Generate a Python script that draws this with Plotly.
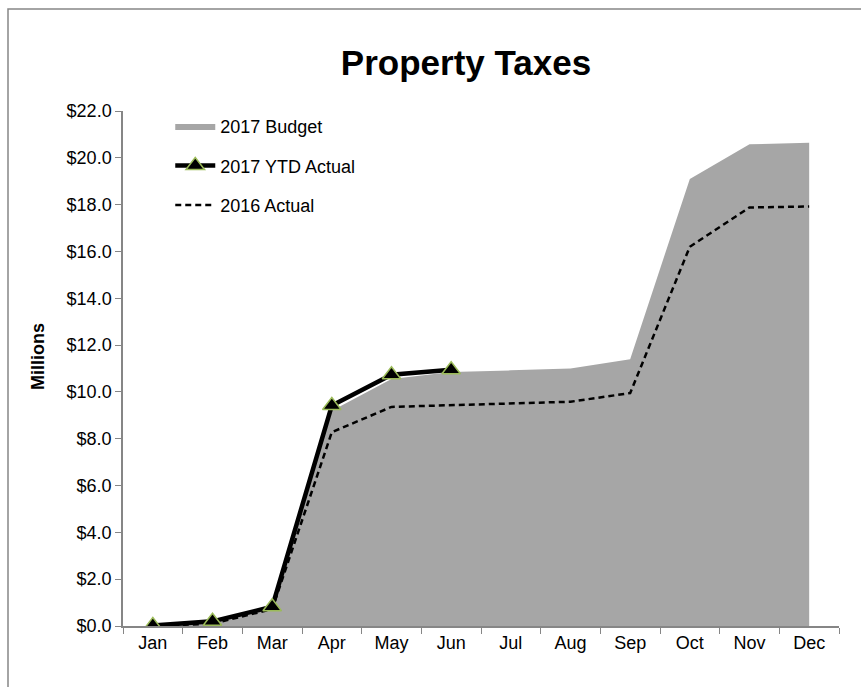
import plotly.graph_objects as go

# Monthly cumulative property tax collections, in millions of dollars
months = ["Jan", "Feb", "Mar", "Apr", "May", "Jun",
          "Jul", "Aug", "Sep", "Oct", "Nov", "Dec"]
budget_2017 = [0.0, 0.15, 0.75, 9.2, 10.55, 10.85, 10.92, 11.0, 11.4, 19.1, 20.58, 20.64]
ytd_actual_2017 = [0.02, 0.2, 0.82, 9.42, 10.73, 10.95]
actual_2016 = [0.0, 0.1, 0.72, 8.28, 9.36, 9.43, 9.5, 9.58, 9.95, 16.2, 17.88, 17.92]
y_ticks = [0, 2, 4, 6, 8, 10, 12, 14, 16, 18, 20, 22]

FONT = "Liberation Sans, Arial, sans-serif"
AXIS_GREY = "#868686"
FILL_GREY = "#A6A6A6"

fig = go.Figure()

fig.add_trace(go.Scatter(
    x=months, y=budget_2017, name="2017 Budget",
    mode="lines", line=dict(width=0, color=FILL_GREY),
    fill="tozeroy", fillcolor=FILL_GREY,
    legendgroup="a", legendrank=1,
))

fig.add_trace(go.Scatter(
    x=months, y=actual_2016, name="2016 Actual",
    mode="lines", line=dict(color="black", width=2.5, dash="6px,4px"),
    legendgroup="c", legendrank=3,
))

fig.add_trace(go.Scatter(
    x=months[:len(ytd_actual_2017)], y=ytd_actual_2017, name="2017 YTD Actual",
    mode="lines+markers",
    line=dict(color="black", width=4.5),
    marker=dict(symbol="triangle-up", size=16, color="black",
                line=dict(color="#9BBB59", width=1.5)),
    legendgroup="b", legendrank=2,
))

# Outer chart border (top and left edges visible)
fig.add_shape(type="rect", xref="paper", yref="paper",
              x0=(8 - 123) / 716, x1=1.2, y0=-0.5, y1=(626 - 9) / 515,
              line=dict(color=AXIS_GREY, width=1.5), fillcolor="rgba(0,0,0,0)",
              layer="below")

fig.update_layout(
    width=861, height=687,
    margin=dict(l=123, r=22, t=111, b=61),
    paper_bgcolor="white", plot_bgcolor="white",
    font=dict(family=FONT, size=18, color="black"),
    title=dict(text="<b>Property Taxes</b>", x=466 / 861, xanchor="center",
               y=1 - 63 / 687, yanchor="middle",
               font=dict(family=FONT, size=35, color="black")),
    showlegend=True,
    legend=dict(x=0.066, y=1.006, xanchor="left", yanchor="top",
                bgcolor="rgba(0,0,0,0)", traceorder="grouped",
                tracegroupgap=13, font=dict(family=FONT, size=18),
                itemwidth=40),
    xaxis=dict(
        type="category", range=[-0.5, 11.5],
        showline=True, linecolor=AXIS_GREY, linewidth=1.5,
        ticks="outside", tickson="boundaries", ticklen=6, tickcolor=AXIS_GREY,
        showgrid=False, zeroline=False,
        tickfont=dict(family=FONT, size=18),
    ),
    yaxis=dict(
        range=[0, 22], tickvals=y_ticks, tickformat="$.1f",
        showline=True, linecolor=AXIS_GREY, linewidth=1.5,
        ticks="outside", ticklen=6, tickcolor=AXIS_GREY,
        showgrid=False, zeroline=False,
        tickfont=dict(family=FONT, size=18),
    ),
)

# Vertical axis caption
fig.add_annotation(text="<b>Millions</b>", xref="paper", yref="paper",
                   x=(38 - 123) / 716, y=(626 - 357) / 515,
                   xanchor="center", yanchor="middle", textangle=-90,
                   showarrow=False, font=dict(family=FONT, size=18, color="black"))

fig.write_html("out.html")
